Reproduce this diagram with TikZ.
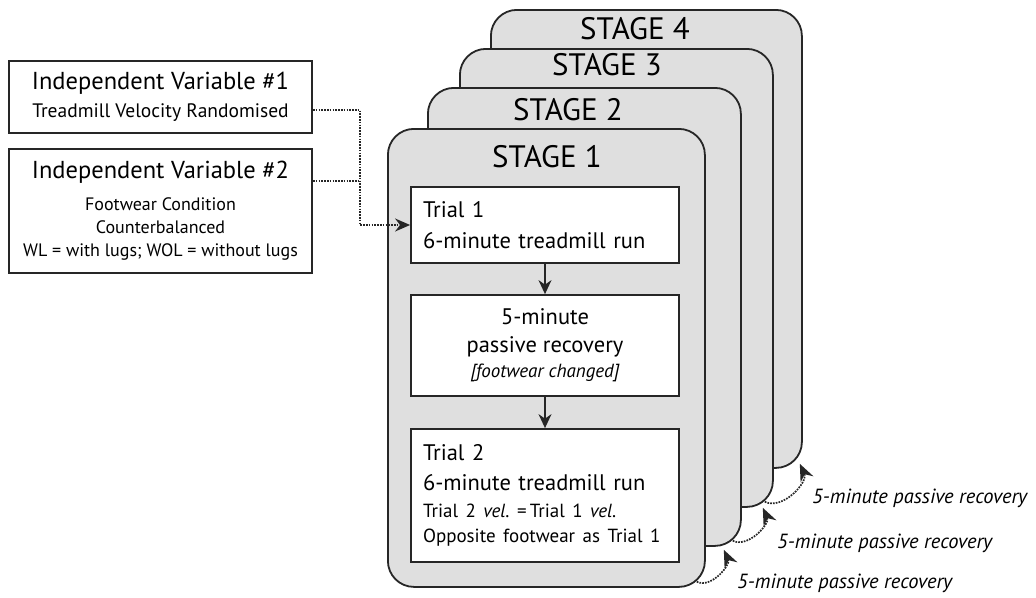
\documentclass[tikz,border=0pt]{standalone}
\usepackage{fontspec}
\setmainfont{PT Sans}
\usetikzlibrary{arrows.meta,calc}

\begin{document}
\begin{tikzpicture}[x=1pt,y=1pt]
    \tikzset{% This is the style settings for nodes
    stagebox/.style={draw=black!85,line width=1.8pt,fill=gray!25,rounded corners=26pt,anchor=north west,minimum height=458pt},
    stagetitle/.style={font=\fontsize{31}{33}\selectfont,inner sep=0pt},
    trialbox/.style={draw=black!85,line width=1.8pt,fill=white,minimum width=268pt,inner sep=0pt},
    varbox/.style={draw=black!85,line width=1.8pt,fill=white,minimum width=303pt,inner sep=0pt,align=center},
    flow/.style={draw=black!85,line width=1.4pt,-{Stealth[length=14pt,width=13pt]}},
    link/.style={draw=black!85,line width=1.7pt,dash pattern=on 1.7pt off 1.1pt},
    rec/.style={link,-{Stealth[length=15pt,width=13pt]}},
    recarrow/.style={link,-{Stealth[length=17pt,width=14pt]}},
    reclabel/.style={font=\fontsize{20.5}{22}\selectfont\itshape,anchor=west,inner sep=0pt},
    }
    \useasboundingbox (0,0) rectangle (1036,-597);

    % Stages
    \node[stagebox,minimum width=311pt] (s4) at (490,-9) {};
    \node[stagetitle] (st4) at (635,-29) {STAGE 4};
    \node[stagebox,minimum width=313pt] (s3) at (459,-48) {};
    \node[stagetitle] (st3) at (607,-65) {STAGE 3};
    \node[stagebox,minimum width=313pt] (s2) at (427,-87) {};
    \node[stagetitle] (st2) at (568,-110) {STAGE 2};
    \node[stagebox,minimum width=317pt] (s1) at (387,-128) {};
    \node[stagetitle] (st1) at (547,-157) {STAGE 1};

    % Trials
    \node[trialbox,minimum height=76pt,text width=244pt,align=left,font=\fontsize{22.5}{31}\selectfont] (t1) at (545,-225)
        {Trial 1\\6-minute treadmill run};
    \node[trialbox,minimum height=101pt,align=center,font=\fontsize{22.5}{28}\selectfont] (rec) at (545,-345.5)
        {5-minute\\passive recovery\\[-3pt]{\fontsize{19}{20}\selectfont\itshape [footwear changed]}};
    \node[trialbox,minimum height=133pt,text width=244pt,align=left,font=\fontsize{22.5}{30}\selectfont] (t2) at (545,-495.5)
        {Trial 2\\6-minute treadmill run\\[-3pt]
        {\fontsize{19}{20}\selectfont Trial 2 \textit{vel.}\ =\,Trial 1 \textit{vel.}}\\[-5pt]
        {\fontsize{19}{20}\selectfont Opposite footwear as Trial 1}};

    % Variables
    \node[varbox,minimum height=72pt,font=\fontsize{24.5}{28}\selectfont] (iv1) at (160.5,-97)
        {Independent Variable \#1\\{\fontsize{19.5}{20}\selectfont Treadmill Velocity Randomised}};
    \node[varbox,minimum height=124pt,font=\fontsize{24.5}{32}\selectfont] (iv2) at (160.5,-211)
        {Independent Variable \#2\\
        {\fontsize{18}{23}\selectfont Footwear Condition}\\[-9pt]
        {\fontsize{18}{23}\selectfont Counterbalanced}\\[-9pt]
        {\fontsize{18}{23}\selectfont WL = with lugs; WOL = without lugs}};

    \coordinate (j) at (360,-225);
    \coordinate (a1) at ([yshift=-13pt]iv1.east);
    \coordinate (a2) at ([yshift=30pt]iv2.east);

    %Edges
    \draw[flow] (t1) -- (rec);
    \draw[flow] (rec) -- (t2);
    \draw[rec] (a1) -| (j) -- (t1.west);
    \draw[link] (a2) -- (a2 -| j);

    % Recovery between stages
    \draw[recarrow] ($(s1.south east)+(-9,6)$) to[out=-25,in=-65] ($(s2.south east)+(-18,-3)$);
    \draw[recarrow] ($(s2.south east)+(-9,6)$) to[out=-25,in=-65] ($(s3.south east)+(-11,0)$);
    \draw[recarrow] ($(s3.south east)+(-9,6)$) to[out=-25,in=-65] ($(s4.south east)+(-3,5)$);
    \node[reclabel] (lab1) at (737,-583) {5-minute passive recovery};
    \node[reclabel] (lab2) at (777,-543) {5-minute passive recovery};
    \node[reclabel] (lab3) at (812,-498) {5-minute passive recovery};
\end{tikzpicture}
\end{document}
